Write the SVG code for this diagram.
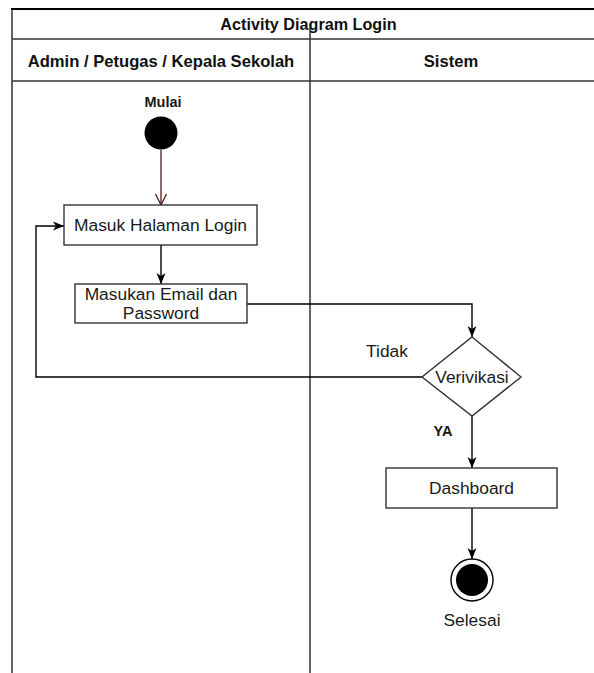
<svg xmlns="http://www.w3.org/2000/svg" width="594" height="673" viewBox="0 0 594 673">
  <defs>
    <style>
      .lane { stroke: #333; stroke-width: 1.5; fill: none; }
      .box { fill: #fff; stroke: #333; stroke-width: 1.4; }
      .edge { fill: none; stroke: #000; stroke-width: 1.4; }
      .hdr { font-family: "Liberation Sans", Arial, sans-serif; font-weight: bold; font-size: 16.6px; fill: #111; text-anchor: middle; }
      .ttl { font-family: "Liberation Sans", Arial, sans-serif; font-weight: bold; font-size: 16.2px; fill: #111; text-anchor: middle; }
      .lbl { font-family: "Liberation Sans", Arial, sans-serif; font-size: 17.4px; fill: #1a1a1a; text-anchor: middle; }
      .blbl { font-family: "Liberation Sans", Arial, sans-serif; font-weight: bold; font-size: 14.5px; fill: #1a1a1a; text-anchor: middle; }
    </style>
    <marker id="block" markerUnits="userSpaceOnUse" markerWidth="14" markerHeight="12" refX="11" refY="6" orient="auto">
      <path d="M0,1.5 L11,6 L0,10.5 L3,6 Z" fill="#000"/>
    </marker>
    <marker id="open" markerUnits="userSpaceOnUse" markerWidth="14" markerHeight="14" refX="12" refY="7" orient="auto">
      <path d="M1,1.5 L12,7 L1,12.5" fill="none" stroke="#4a1c1c" stroke-width="1.3"/>
    </marker>
  </defs>

  <rect width="594" height="673" fill="#fff"/>

  <!-- pool frame and swimlanes -->
  <g id="pool">
    <line x1="11" y1="9" x2="594" y2="9" stroke="#000" stroke-width="2"/>
    <line class="lane" x1="12" y1="9" x2="12" y2="673"/>
    <line class="lane" x1="12" y1="39" x2="594" y2="39"/>
    <line class="lane" x1="12" y1="81" x2="594" y2="81"/>
    <line class="lane" x1="310" y1="28" x2="310" y2="673"/>
    <text class="ttl" x="308.5" y="30">Activity Diagram Login</text>
    <text class="hdr" x="161" y="66.5">Admin / Petugas / Kepala Sekolah</text>
    <text class="hdr" x="451" y="66.5">Sistem</text>
  </g>

  <!-- connectors -->
  <g id="connectors">
    <line x1="161" y1="150" x2="161" y2="205" fill="none" stroke="#4a1c1c" stroke-width="1.3" marker-end="url(#open)"/>
    <line class="edge" x1="161" y1="245" x2="161" y2="284" marker-end="url(#block)"/>
    <polyline class="edge" points="247,304 472,304 472,337" marker-end="url(#block)"/>
    <polyline class="edge" points="422,377 36,377 36,226 64,226" marker-end="url(#block)"/>
    <line class="edge" x1="472" y1="415" x2="472" y2="468" marker-end="url(#block)"/>
    <line class="edge" x1="472" y1="508" x2="472" y2="559" marker-end="url(#block)"/>
    <text class="lbl" x="387" y="357">Tidak</text>
    <text class="blbl" x="443" y="436">YA</text>
  </g>

  <g id="start">
    <text class="blbl" x="163" y="107">Mulai</text>
    <circle cx="161" cy="133" r="16.5" fill="#000"/>
  </g>

  <g id="masuk-halaman-login">
    <rect class="box" x="64" y="205" width="193" height="40"/>
    <text class="lbl" x="160.5" y="231">Masuk Halaman Login</text>
  </g>

  <g id="masukan-email-password">
    <rect class="box" x="75" y="284" width="172" height="39"/>
    <text class="lbl" x="161" y="300">Masukan Email dan</text>
    <text class="lbl" x="161" y="319">Password</text>
  </g>

  <g id="verifikasi">
    <polygon class="box" points="472,337 521,377 472,416 422,377"/>
    <text class="lbl" x="472" y="383">Verivikasi</text>
  </g>

  <g id="dashboard">
    <rect class="box" x="386" y="468" width="171" height="40"/>
    <text class="lbl" x="471.5" y="494">Dashboard</text>
  </g>

  <g id="end">
    <circle cx="472" cy="580" r="21" fill="#fff" stroke="#000" stroke-width="1.4"/>
    <circle cx="472" cy="580" r="16" fill="#000"/>
    <text class="lbl" x="472" y="626">Selesai</text>
  </g>
</svg>
